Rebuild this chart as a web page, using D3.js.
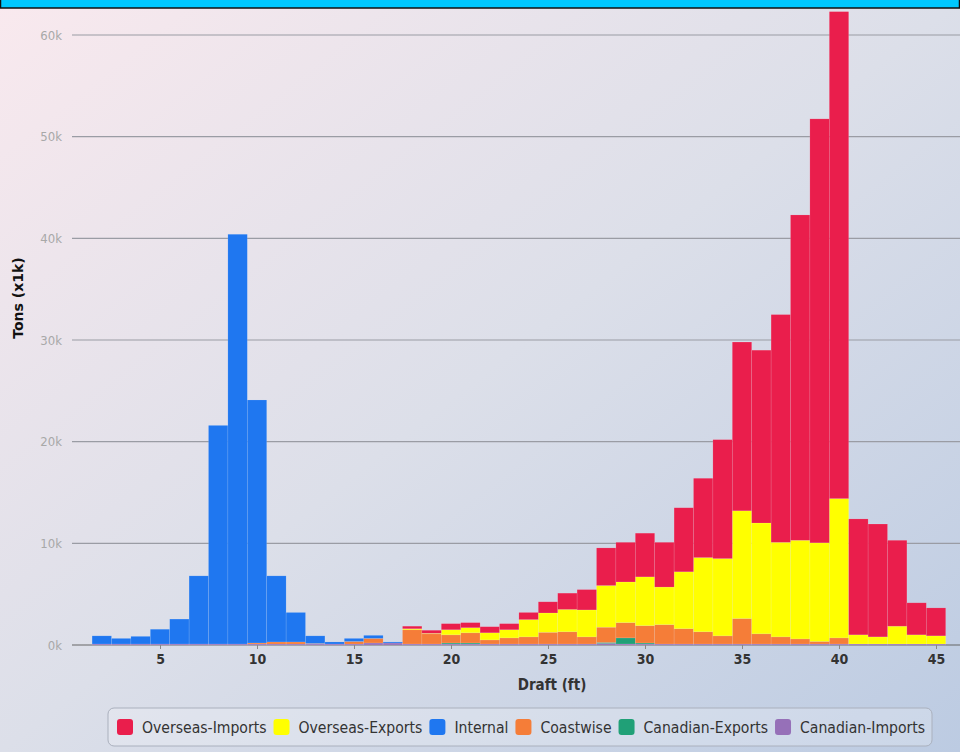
<!DOCTYPE html>
<html>
<head>
<meta charset="utf-8">
<script src="https://cdn.jsdelivr.net/npm/d3@7"></script>
<style>
  body { margin: 0; overflow: hidden; }
  svg { display: block; }
</style>
</head>
<body>
<div id="chart"></div>
<script>
// Draft bins (ft)
const drafts = [2, 3, 4, 5, 6, 7, 8, 9, 10, 11, 12, 13, 14, 15, 16, 17, 18, 19, 20, 21, 22, 23,
  24, 25, 26, 27, 28, 29, 30, 31, 32, 33, 34, 35, 36, 37, 38, 39, 40, 41, 42, 43, 44, 45];

// Tons (x1k), one value per draft bin
const overseasImports = [0, 0, 0, 0, 0, 0, 0, 0, 0, 0, 0, 0, 0, 0, 0, 0, 0.25, 0.3, 0.6, 0.5, 0.6, 0.6,
  0.7, 1.1, 1.6, 2.0, 3.7, 3.9, 4.3, 4.4, 6.3, 7.8, 11.7, 16.6, 17.0, 22.4, 32.0, 41.7, 47.9, 11.4, 11.1, 8.45, 3.15, 2.75];
const overseasExports = [0, 0, 0, 0, 0, 0, 0, 0, 0, 0, 0, 0, 0, 0, 0, 0, 0.1, 0.05, 0.5, 0.5, 0.7, 0.8,
  1.7, 1.9, 2.2, 2.65, 4.1, 4.0, 4.8, 3.7, 5.6, 7.3, 7.6, 10.6, 10.9, 9.3, 9.7, 9.7, 13.7, 0.9, 0.7, 1.75, 0.9, 0.8];
const internal = [0.8, 0.55, 0.75, 1.45, 2.45, 6.7, 21.5, 40.3, 23.9, 6.5, 2.9, 0.75, 0.2, 0.3, 0.3, 0.1, 0, 0, 0, 0, 0, 0,
  0, 0, 0, 0, 0, 0, 0, 0, 0, 0, 0, 0, 0, 0, 0, 0, 0, 0, 0, 0, 0, 0];
const coastwise = [0, 0, 0, 0, 0, 0, 0, 0, 0.1, 0.2, 0.2, 0.05, 0, 0.25, 0.45, 0, 1.4, 1.0, 0.8, 1.0, 0.4, 0.6,
  0.7, 1.15, 1.2, 0.7, 1.5, 1.5, 1.7, 1.9, 1.5, 1.2, 0.8, 2.5, 1.0, 0.7, 0.5, 0.25, 0.6, 0, 0, 0, 0, 0];
const canadianExports = [0, 0, 0, 0, 0, 0, 0, 0, 0, 0, 0, 0, 0, 0, 0, 0, 0, 0, 0.1, 0.1, 0, 0,
  0, 0, 0, 0, 0.1, 0.6, 0.1, 0, 0, 0, 0, 0, 0, 0, 0, 0, 0, 0, 0, 0, 0, 0];
const canadianImports = [0.1, 0.1, 0.1, 0.1, 0.1, 0.1, 0.1, 0.1, 0.1, 0.1, 0.1, 0.1, 0.1, 0.1, 0.2, 0.2, 0.1, 0.1, 0.1, 0.1, 0.1, 0.1,
  0.1, 0.1, 0.1, 0.1, 0.15, 0.1, 0.1, 0.1, 0.1, 0.1, 0.1, 0.1, 0.1, 0.1, 0.1, 0.1, 0.1, 0.1, 0.1, 0.1, 0.1, 0.1];

const seriesNames = ['Overseas-Imports', 'Overseas-Exports', 'Internal', 'Coastwise', 'Canadian-Exports', 'Canadian-Imports'];
const seriesValues = [overseasImports, overseasExports, internal, coastwise, canadianExports, canadianImports];
const seriesColors = ['#ea1e4c', '#ffff00', '#1f77f0', '#f57d38', '#20a077', '#9670b8'];

const yTicks = [0, 10, 20, 30, 40, 50, 60];
const xTicks = [5, 10, 15, 20, 25, 30, 35, 40, 45];

/* Dimensions */
const width = 960, height = 752;
const plotLeft = 72, plotRight = 960;
const FONT = 'DejaVu Sans Condensed, DejaVu Sans';

const svg = d3.select('#chart').append('svg')
  .attr('width', width)
  .attr('height', height);

// Background gradient
const defs = svg.append('defs');
const grad = defs.append('linearGradient')
  .attr('id', 'bg')
  .attr('x1', '0%').attr('y1', '0%')
  .attr('x2', '100%').attr('y2', '100%');
grad.append('stop').attr('offset', '0%').attr('stop-color', '#f9e9ee');
grad.append('stop').attr('offset', '50%').attr('stop-color', '#dcdfe9');
grad.append('stop').attr('offset', '100%').attr('stop-color', '#bccbe2');

svg.append('rect')
  .attr('width', width).attr('height', height)
  .attr('fill', 'url(#bg)');

/* Scales */
const x = d3.scaleLinear().domain([0, 45]).range([63, 936]);
const y = d3.scaleLinear().domain([0, 60]).range([645, 35]);

/* Table for stacking */
const table = drafts.map((d, i) => {
  const row = { draft: d };
  seriesNames.forEach((name, j) => { row[name] = seriesValues[j][i]; });
  return row;
});

// Bottom of the stack is the last series
const stack = d3.stack().keys(seriesNames.slice().reverse());
const layers = stack(table);
const color = d3.scaleOrdinal().domain(seriesNames).range(seriesColors);

// Grid lines
svg.append('g')
  .selectAll('line')
  .data(yTicks)
  .join('line')
  .attr('x1', plotLeft).attr('x2', plotRight)
  .attr('y1', (d) => y(d)).attr('y2', (d) => y(d))
  .attr('stroke', (d) => (d === 0 ? '#666' : '#9a9ca4'))
  .attr('stroke-width', 1.2);

// Y tick labels
svg.append('g')
  .selectAll('text')
  .data(yTicks)
  .join('text')
  .attr('x', 62)
  .attr('y', (d) => y(d))
  .attr('dy', '0.35em')
  .attr('text-anchor', 'end')
  .attr('font-family', FONT)
  .attr('font-size', 13)
  .attr('fill', '#a8a8a8')
  .text((d) => d + 'k');

// Bars
svg.append('g')
  .selectAll('g')
  .data(layers)
  .join('g')
  .attr('fill', (d) => color(d.key))
  .selectAll('rect')
  .data((d) => d)
  .join('rect')
  .attr('x', (d) => x(d.data.draft - 0.5))
  .attr('width', (d) => x(d.data.draft + 0.5) - x(d.data.draft - 0.5))
  .attr('y', (d) => y(d[1]))
  .attr('height', (d) => y(d[0]) - y(d[1]))
  .attr('stroke', 'rgba(255,255,255,0.18)')
  .attr('stroke-width', 0.6);

// X axis
const xAxis = svg.append('g')
  .attr('transform', `translate(0,${y(0)})`)
  .call(d3.axisBottom(x).tickValues(xTicks).tickSize(4).tickPadding(5));
xAxis.select('.domain').remove();
xAxis.selectAll('.tick line').attr('stroke', '#888');
xAxis.selectAll('.tick text')
  .attr('font-family', FONT)
  .attr('font-weight', 'bold')
  .attr('font-size', 14)
  .attr('fill', '#333');

svg.append('text')
  .attr('x', 552)
  .attr('y', 690)
  .attr('text-anchor', 'middle')
  .attr('font-family', FONT)
  .attr('font-weight', 'bold')
  .attr('font-size', 15)
  .attr('fill', '#333')
  .text('Draft (ft)');

// Y title
svg.append('text')
  .attr('transform', 'translate(23,298) rotate(-90)')
  .attr('text-anchor', 'middle')
  .attr('font-family', 'DejaVu Sans')
  .attr('font-weight', 'bold')
  .attr('font-size', 14)
  .attr('fill', '#111')
  .text('Tons (x1k)');

// Top banner
svg.append('rect')
  .attr('x', 0.5).attr('y', -2)
  .attr('width', width - 1).attr('height', 10)
  .attr('fill', '#00c8ff')
  .attr('stroke', '#111')
  .attr('stroke-width', 1.5);

/* Legend */
svg.append('rect')
  .attr('x', 108).attr('y', 708)
  .attr('width', 824).attr('height', 38)
  .attr('rx', 6)
  .attr('fill', 'rgba(255,255,255,0.22)')
  .attr('stroke', '#aab0bd');

const legend = svg.append('g');
let lx = 117;
seriesNames.forEach((name, i) => {
  const item = legend.append('g').attr('transform', `translate(${lx},0)`);
  item.append('rect')
    .attr('x', 0).attr('y', 719)
    .attr('width', 16).attr('height', 16)
    .attr('rx', 3)
    .attr('fill', seriesColors[i]);
  const t = item.append('text')
    .attr('x', 25)
    .attr('y', 733)
    .attr('font-family', FONT)
    .attr('font-size', 15.6)
    .attr('fill', '#333')
    .text(name);
  lx += 25 + t.node().getComputedTextLength() + 7;
});
</script>
</body>
</html>
